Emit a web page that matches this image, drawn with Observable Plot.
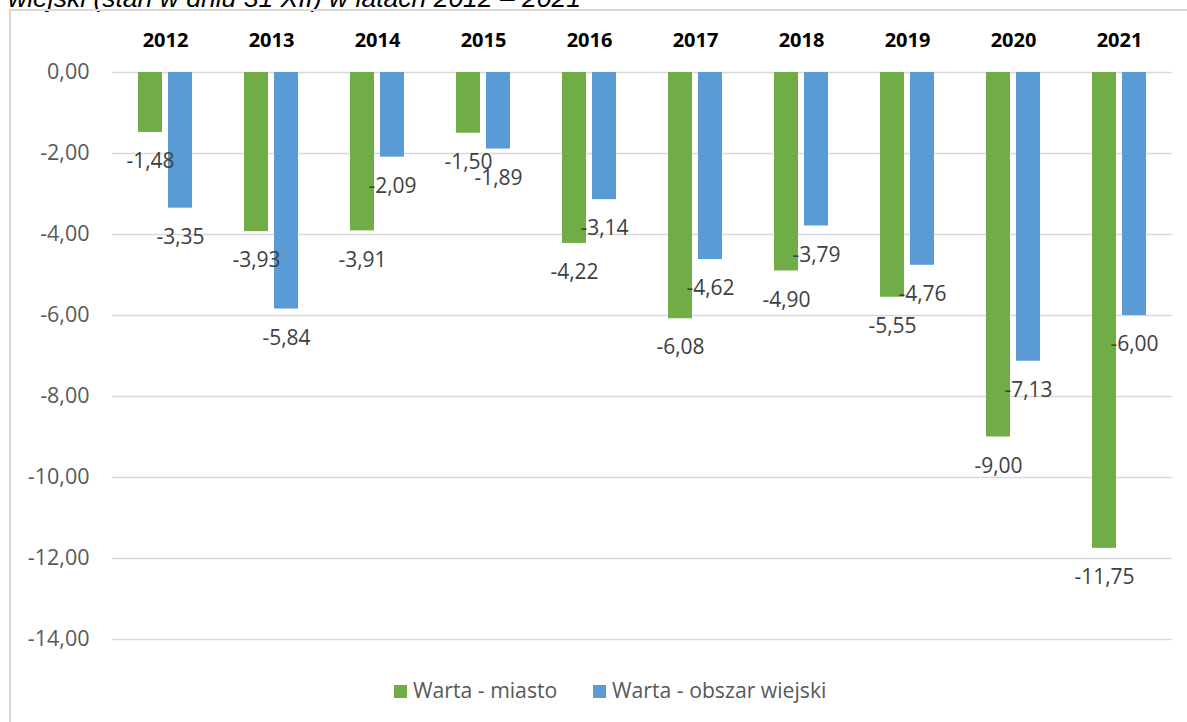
<!DOCTYPE html>
<html>
<head>
<meta charset="utf-8">
<script src="https://cdn.jsdelivr.net/npm/d3@7"></script>
<script src="https://cdn.jsdelivr.net/npm/@observablehq/plot@0.6"></script>
<style>
  html, body { margin: 0; padding: 0; background: #fff; }
  body { width: 1187px; height: 722px; overflow: hidden; position: relative; font-family: "Open Sans", sans-serif; }
  #title { position: absolute; left: 8px; top: -15.4px; font-family: "Liberation Sans", Arial, sans-serif; font-style: italic; font-size: 26.5px; line-height: 26.5px; color: #000; white-space: nowrap; }
  #frame { position: absolute; left: 9px; top: 9px; width: 1200px; height: 740px; border: 2px solid #d9d9d9; box-sizing: border-box; }
  #chart { position: absolute; left: 0; top: 0; }
  .sw { position: absolute; top: 685px; width: 13px; height: 13px; }
  .lt { position: absolute; top: 679.2px; font-size: 21.2px; line-height: 21.2px; color: #595959; font-family: "Open Sans", sans-serif; white-space: nowrap; }
</style>
</head>
<body>
<div id="title">wiejski (stan w dniu 31 XII) w latach 2012 – 2021</div>
<div id="frame"></div>
<div id="chart"></div>
<div id="legend"></div>
<script>
const years = ["2012", "2013", "2014", "2015", "2016", "2017", "2018", "2019", "2020", "2021"];
const miasto = [-1.48, -3.93, -3.91, -1.50, -4.22, -6.08, -4.90, -5.55, -9.00, -11.75];
const wiejski = [-3.35, -5.84, -2.09, -1.89, -3.14, -4.62, -3.79, -4.76, -7.13, -6.00];
const seriesNames = ["Warta - miasto", "Warta - obszar wiejski"];
const seriesColors = ["#70ad47", "#5b9bd5"];
const yTicks = [0, -2, -4, -6, -8, -10, -12, -14];

const fmt = d => d.toFixed(2).replace(".", ",");
const dataM = years.map((year, i) => ({year, v: miasto[i]}));
const dataW = years.map((year, i) => ({year, v: wiejski[i]}));

const labelStyle = {fontSize: 21, fill: "#404040", fontFamily: "'Open Sans', sans-serif"};

const chart = Plot.plot({
  width: 1187,
  height: 660,
  marginLeft: 112,
  marginRight: 15,
  marginTop: 72,
  marginBottom: 21,
  style: {fontFamily: "'Open Sans', sans-serif", background: "transparent"},
  x: {domain: years, padding: 0, axis: null},
  y: {domain: [-14, 0], axis: null},
  marks: [
    Plot.gridY(yTicks, {stroke: "#d9d9d9", strokeOpacity: 1, strokeWidth: 1.5}),
    Plot.axisY(yTicks, {tickSize: 0, tickPadding: 23, tickFormat: fmt, fontSize: 21.5, fill: "#595959", label: null}),
    Plot.text(years, {x: d => d, frameAnchor: "top", lineAnchor: "middle", dy: -32, fontSize: 20, fontWeight: "bold", fill: "#000"}),
    Plot.barY(dataM, {x: "year", y: "v", fill: seriesColors[0], insetLeft: 26, insetRight: 56}),
    Plot.barY(dataW, {x: "year", y: "v", fill: seriesColors[1], insetLeft: 56, insetRight: 26}),
    Plot.text(dataM, {x: "year", y: "v", text: d => fmt(d.v), dx: -15, dy: 29, ...labelStyle}),
    Plot.text(dataW, {x: "year", y: "v", text: d => fmt(d.v), dx: 15, dy: 29, ...labelStyle})
  ]
});
document.getElementById("chart").appendChild(chart);

const legend = document.getElementById("legend");
const legendLeft = [394, 593];
seriesNames.forEach((name, i) => {
  const sw = document.createElement("div");
  sw.className = "sw";
  sw.style.left = legendLeft[i] + "px";
  sw.style.background = seriesColors[i];
  const t = document.createElement("div");
  t.className = "lt";
  t.style.left = (legendLeft[i] + 19) + "px";
  t.textContent = name;
  legend.appendChild(sw);
  legend.appendChild(t);
});
</script>
</body>
</html>
